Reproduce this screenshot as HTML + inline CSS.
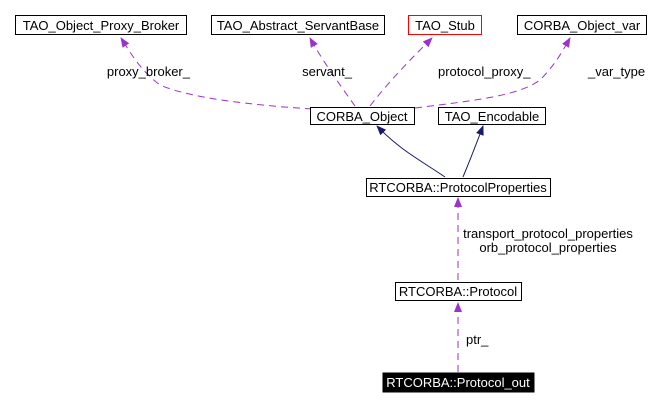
<!DOCTYPE html>
<html><head><style>
body{margin:0;background:#fff;}
svg text{font-family:"Liberation Sans",Arial,sans-serif;font-size:13px;fill:#000;}
</style></head><body>
<svg width="660" height="406" viewBox="0 0 660 406" xmlns="http://www.w3.org/2000/svg">
<defs>
<marker id="p" markerWidth="10" markerHeight="10" refX="9" refY="5" orient="auto" markerUnits="userSpaceOnUse"><path d="M0,1 L10,5 L0,9 z" fill="#9a32cd"/></marker>
<marker id="b" markerWidth="10" markerHeight="10" refX="9" refY="5" orient="auto" markerUnits="userSpaceOnUse"><path d="M0,1 L10,5 L0,9 z" fill="#191970"/></marker>
</defs>
<g fill="none" stroke="#9a32cd" stroke-width="1" stroke-dasharray="7,5">
<path d="M312,109 C250,105 190,98 160,85 C140,70 132,55 121,38" marker-end="url(#p)"/>
<path d="M355,106 C340,85 322,60 310,38" marker-end="url(#p)"/>
<path d="M370,106 C390,80 412,58 432,38" marker-end="url(#p)"/>
<path d="M415,108 C480,100 520,95 540,80 C555,65 562,52 570,38" marker-end="url(#p)"/>
<path d="M458,280 L458,198" marker-end="url(#p)"/>
<path d="M458,372 L458,303" marker-end="url(#p)"/>
</g>
<g fill="none" stroke="#191970" stroke-width="1">
<path d="M445,177 C420,160 400,150 377,126" marker-end="url(#b)"/>
<path d="M463,177 C470,160 476,145 483,126" marker-end="url(#b)"/>
</g>
<g stroke-width="1" fill="#fff" stroke="#000">
<rect x="15.5" y="15.5" width="171" height="19"/>
<rect x="211.5" y="15.5" width="173" height="19"/>
<rect x="408.5" y="15.5" width="73" height="19" stroke="#ff0000"/>
<rect x="517.5" y="15.5" width="129" height="19"/>
<rect x="310.5" y="107.5" width="104" height="17"/>
<rect x="438.5" y="107.5" width="107" height="17"/>
<rect x="366.5" y="178.5" width="184" height="18"/>
<rect x="395.5" y="282.5" width="126" height="18"/>
<rect x="383" y="373" width="151" height="19" fill="#000"/>
</g>
<text x="101" y="30" text-anchor="middle">TAO_Object_Proxy_Broker</text>
<text x="298" y="30" text-anchor="middle">TAO_Abstract_ServantBase</text>
<text x="445" y="30" text-anchor="middle">TAO_Stub</text>
<text x="582" y="30" text-anchor="middle">CORBA_Object_var</text>
<text x="362" y="121" text-anchor="middle">CORBA_Object</text>
<text x="492" y="121" text-anchor="middle">TAO_Encodable</text>
<text x="458" y="192" text-anchor="middle">RTCORBA::ProtocolProperties</text>
<text x="458" y="296" text-anchor="middle">RTCORBA::Protocol</text>
<text x="458" y="387" text-anchor="middle" style="fill:#fff">RTCORBA::Protocol_out</text>
<text x="190" y="76" text-anchor="end">proxy_broker_</text>
<text x="352" y="76" text-anchor="end">servant_</text>
<text x="438" y="76">protocol_proxy_</text>
<text x="588" y="76">_var_type</text>
<text x="548" y="238" text-anchor="middle">transport_protocol_properties</text>
<text x="548" y="252" text-anchor="middle">orb_protocol_properties</text>
<text x="466" y="344">ptr_</text>
</svg>
</body></html>
